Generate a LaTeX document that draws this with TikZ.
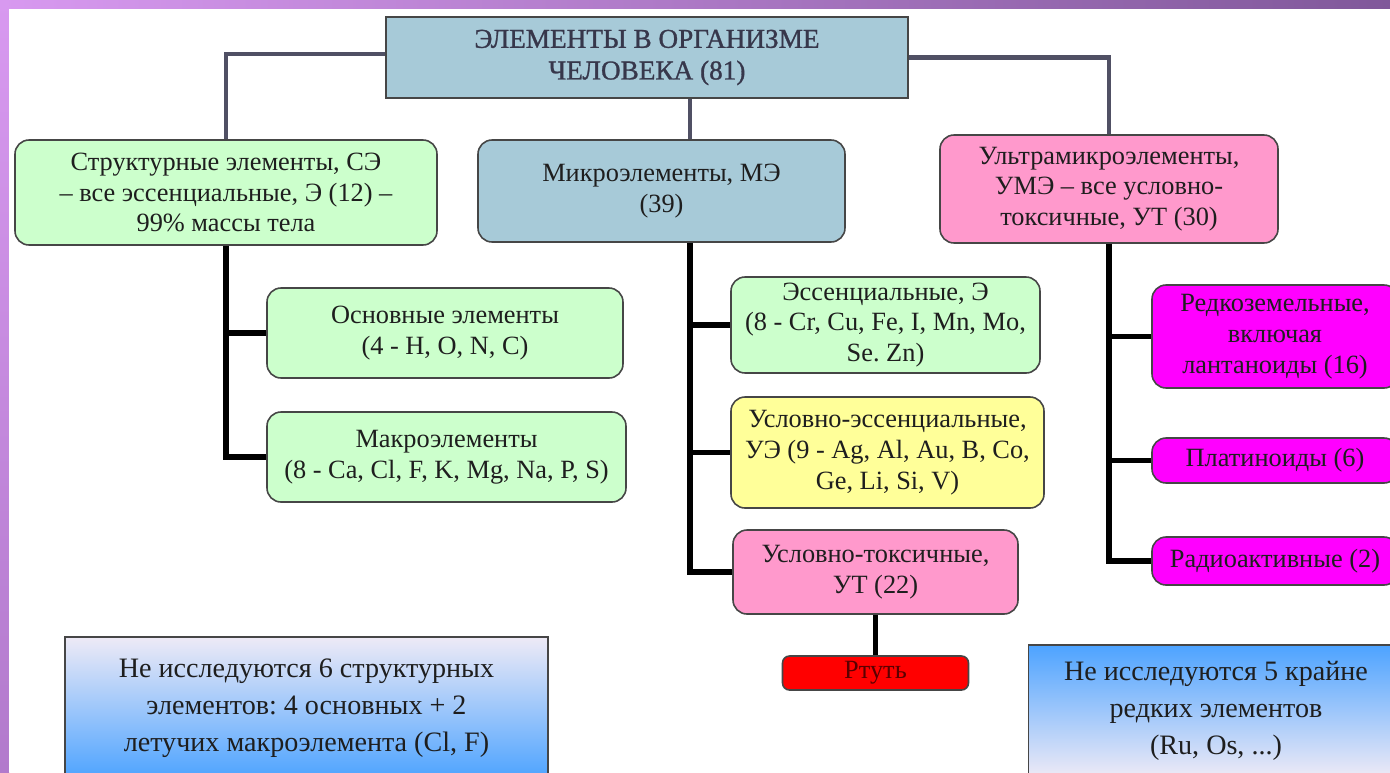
\documentclass[tikz,border=0pt]{standalone}
\usepackage{fontspec}
\setmainfont{Liberation Serif}
\usepackage{tikz}
\usetikzlibrary{positioning}
\frenchspacing
\definecolor{framel}{RGB}{216,153,240}
\definecolor{framer}{RGB}{128,88,154}
\definecolor{frameb}{RGB}{178,122,204}
\definecolor{boxline}{RGB}{70,70,70}
\definecolor{txtdark}{RGB}{30,30,30}
\definecolor{titletxt}{RGB}{55,55,75}
\definecolor{hdrblue}{RGB}{167,202,216}
\definecolor{pgreen}{RGB}{204,255,204}
\definecolor{ppink}{RGB}{255,153,204}
\definecolor{pyellow}{RGB}{255,255,153}
\definecolor{pmagenta}{RGB}{255,0,255}
\definecolor{pred}{RGB}{255,0,0}
\definecolor{redtxt}{RGB}{90,0,0}
\definecolor{noteblue}{RGB}{77,163,255}
\definecolor{notelight}{RGB}{238,234,246}
\definecolor{linkgray}{RGB}{80,80,100}
\tikzset{
  boxsize/.style 2 args={minimum width={#1*0.02cm}, minimum height={#2*0.02cm}},
  box/.style={rectangle, draw=boxline, rounded corners=8pt, line width=0.9pt,
    align=center, font=\fontsize{15}{17.5}\selectfont, text=txtdark, inner sep=2pt},
  titlebox/.style={box, rounded corners=0pt, fill=hdrblue, text=titletxt,
    font=\fontsize{15.5}{18}\selectfont\addfontfeature{FakeBold=1}},
  bluebox/.style={box, fill=hdrblue},
  greenbox/.style={box, fill=pgreen},
  pinkbox/.style={box, fill=ppink},
  yellowbox/.style={box, fill=pyellow},
  magbox/.style={box, fill=pmagenta},
  redbox/.style={box, fill=pred, rounded corners=4pt, text=redtxt},
  note/.style={rectangle, draw=boxline, line width=0.9pt, align=center,
    font=\fontsize{16}{21}\selectfont, text=txtdark},
  link/.style={line width=2.8pt, color=linkgray},
  bar/.style={line width=3pt, color=black}
}

\begin{document}
\begin{tikzpicture}[x=0.02cm, y=-0.02cm]
  \clip (0,0) rectangle (1390,772);
  % Frame
  \shade[left color=framel, right color=framer] (0,0) rectangle (1390,9);
  \shade[top color=framel, bottom color=frameb] (0,0) rectangle (9,772);
  \fill[white] (9,9) rectangle (1390,772);
  % Top level
  \node[titlebox, boxsize={522}{81}] (top) at (647,57.5)
    {ЭЛЕМЕНТЫ В ОРГАНИЗМЕ\\ЧЕЛОВЕКА (81)};
  % Second level
  \node[greenbox, boxsize={422}{105}] (ce) at (226,192.5)
    {Структурные элементы, СЭ\\– все эссенциальные, Э (12) –\\99\% массы тела};
  \node[bluebox, boxsize={367}{102}] (me) at (661.5,191)
    {Микроэлементы, МЭ\\(39)};
  \node[pinkbox, boxsize={338}{108}] (ume) at (1109,189)
    {Ультрамикроэлементы,\\УМЭ – все условно-\\токсичные, УТ (30)};
  % Structural elements
  \node[greenbox, boxsize={356}{90}] (osn) at (445,333)
    {Основные элементы\\(4 - H, O, N, C)};
  \node[greenbox, boxsize={359}{90}] (makro) at (446.5,457)
    {Макроэлементы\\(8 - Ca, Cl, F, K, Mg, Na, P, S)};
  % Microelements
  \node[greenbox, boxsize={309}{96}] (ess) at (885.5,325)
    {Эссенциальные, Э\\(8 - Cr, Cu, Fe, I, Mn, Mo,\\Se. Zn)};
  \node[yellowbox, boxsize={313}{111}] (uess) at (887.5,452.5)
    {Условно-эссенциальные,\\УЭ (9 - Ag, Al, Au, B, Co,\\Ge, Li, Si, V)};
  \node[pinkbox, boxsize={285}{84}] (ut) at (875.5,572)
    {Условно-токсичные,\\УТ (22)};
  \node[redbox, boxsize={186}{34}] (rtut) at (875.5,673) {Ртуть};
  % Ultramicroelements
  \node[magbox, boxsize={246}{103}] (rare) at (1275,336.5)
    {Редкоземельные,\\включая\\лантаноиды (16)};
  \node[magbox, boxsize={246}{45}] (plat) at (1275,460.5)
    {Платиноиды (6)};
  \node[magbox, boxsize={246}{48}] (rad) at (1275,561)
    {Радиоактивные (2)};
  % Notes
  \node[note, top color=notelight, bottom color=noteblue,
    boxsize={483}{142}] (noteL) at (306.5,708)
    {Не исследуются 6 структурных\\элементов: 4 основных + 2\\летучих макроэлемента (Cl, F)};
  \node[note, top color=noteblue, bottom color=notelight,
    boxsize={375}{132}] (noteR) at (1216,711)
    {Не исследуются 5 крайне\\редких элементов\\(Ru, Os, ...)};
  % Links from the top
  \coordinate (mspine) at (690,0);
  \draw[link] ([yshift=2pt]top.west) -| (ce.north);
  \draw[link] (top.east) -| (ume.north);
  \draw[link] (top.south -| mspine) -- (me.north -| mspine);
  % Left branch
  \draw[bar] (ce.south) |- (makro.west);
  \draw[bar] (ce.south |- osn.west) -- (osn.west);
  % Middle branch
  \draw[bar] (me.south -| mspine) |- (ut.west);
  \draw[bar] (mspine |- ess.west) -- (ess.west);
  \draw[bar] (mspine |- uess.west) -- (uess.west);
  \draw[bar] (ut.south) -- (rtut.north);
  % Right branch
  \draw[bar] (ume.south) |- (rad.west);
  \draw[bar] (ume.south |- rare.west) -- (rare.west);
  \draw[bar] (ume.south |- plat.west) -- (plat.west);
\end{tikzpicture}
\end{document}
